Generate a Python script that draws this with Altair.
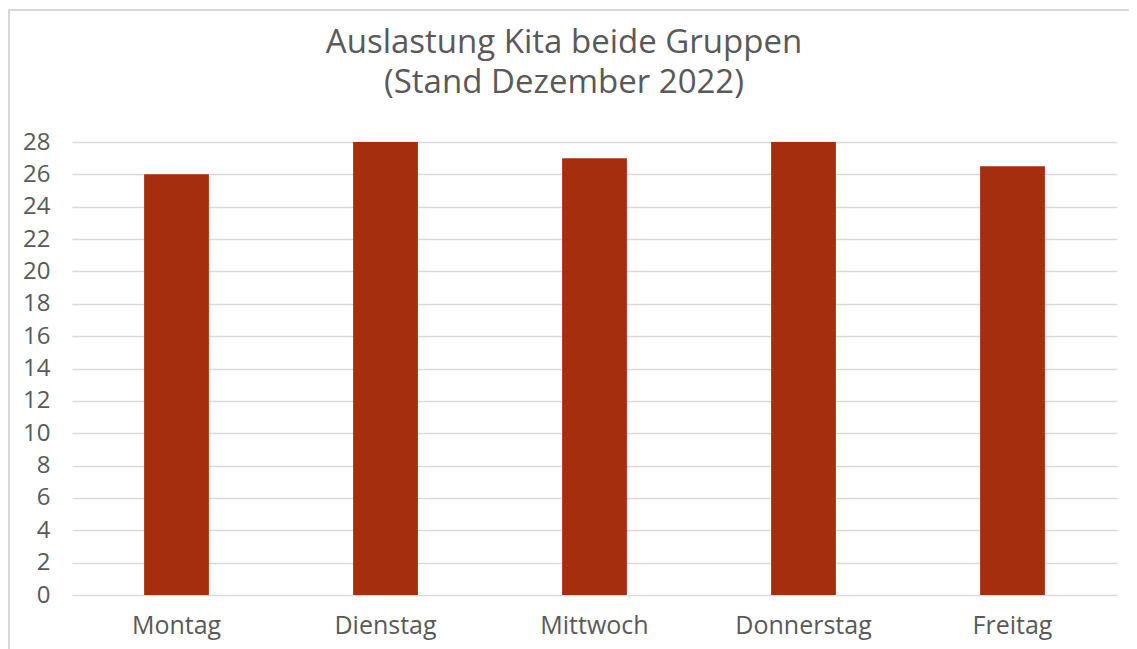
import altair as alt
import pandas as pd

days = ["Montag", "Dienstag", "Mittwoch", "Donnerstag", "Freitag"]
values = [26, 28, 27, 28, 26.5]
y_ticks = list(range(0, 30, 2))
title_lines = ["Auslastung Kita beide Gruppen", "(Stand Dezember 2022)"]

df = pd.DataFrame({"Tag": days, "Wert": values})

FONT = "Open Sans"
GRAY = "#595959"

bars = alt.Chart(df).mark_bar(color="#A52E0F").encode(
    x=alt.X("Tag:N", sort=days,
            scale=alt.Scale(paddingInner=0.69, paddingOuter=0.345),
            axis=alt.Axis(title=None, labelAngle=0, domain=False, ticks=False, grid=False,
                          labelPadding=18, labelFontSize=25, labelColor=GRAY,
                          labelFont=FONT)),
    y=alt.Y("Wert:Q", scale=alt.Scale(domain=[0, 28], nice=False),
            axis=alt.Axis(title=None, values=y_ticks, domain=False, ticks=False, grid=True,
                          labelPadding=22, labelFontSize=24, labelColor=GRAY,
                          labelFont=FONT, gridColor="#d9d9d9", gridWidth=1.5)),
)

frame = alt.Chart(df).mark_rect(fill=None, stroke="#d9d9d9", strokeWidth=1.5, clip=False).encode(
    x=alt.value(-63), x2=alt.value(1058), y=alt.value(-132), y2=alt.value(520)
)

t1 = alt.Chart(pd.DataFrame({"t": [title_lines[0]]})).mark_text(
    font=FONT, fontSize=33, color=GRAY, align="center", baseline="middle"
).encode(text="t:N", x=alt.value(492), y=alt.value(-99))

t2 = alt.Chart(pd.DataFrame({"t": [title_lines[1]]})).mark_text(
    font=FONT, fontSize=33, color=GRAY, align="center", baseline="middle"
).encode(text="t:N", x=alt.value(492), y=alt.value(-59))

chart = alt.layer(frame, bars, t1, t2).properties(
    width=1045, height=453,
    padding={"left": 64, "top": 134, "right": 12, "bottom": 70},
    autosize=alt.AutoSizeParams(type="none"),
).configure_view(stroke=None)

chart.save("out.html", embed_options={"renderer": "svg", "actions": False})
